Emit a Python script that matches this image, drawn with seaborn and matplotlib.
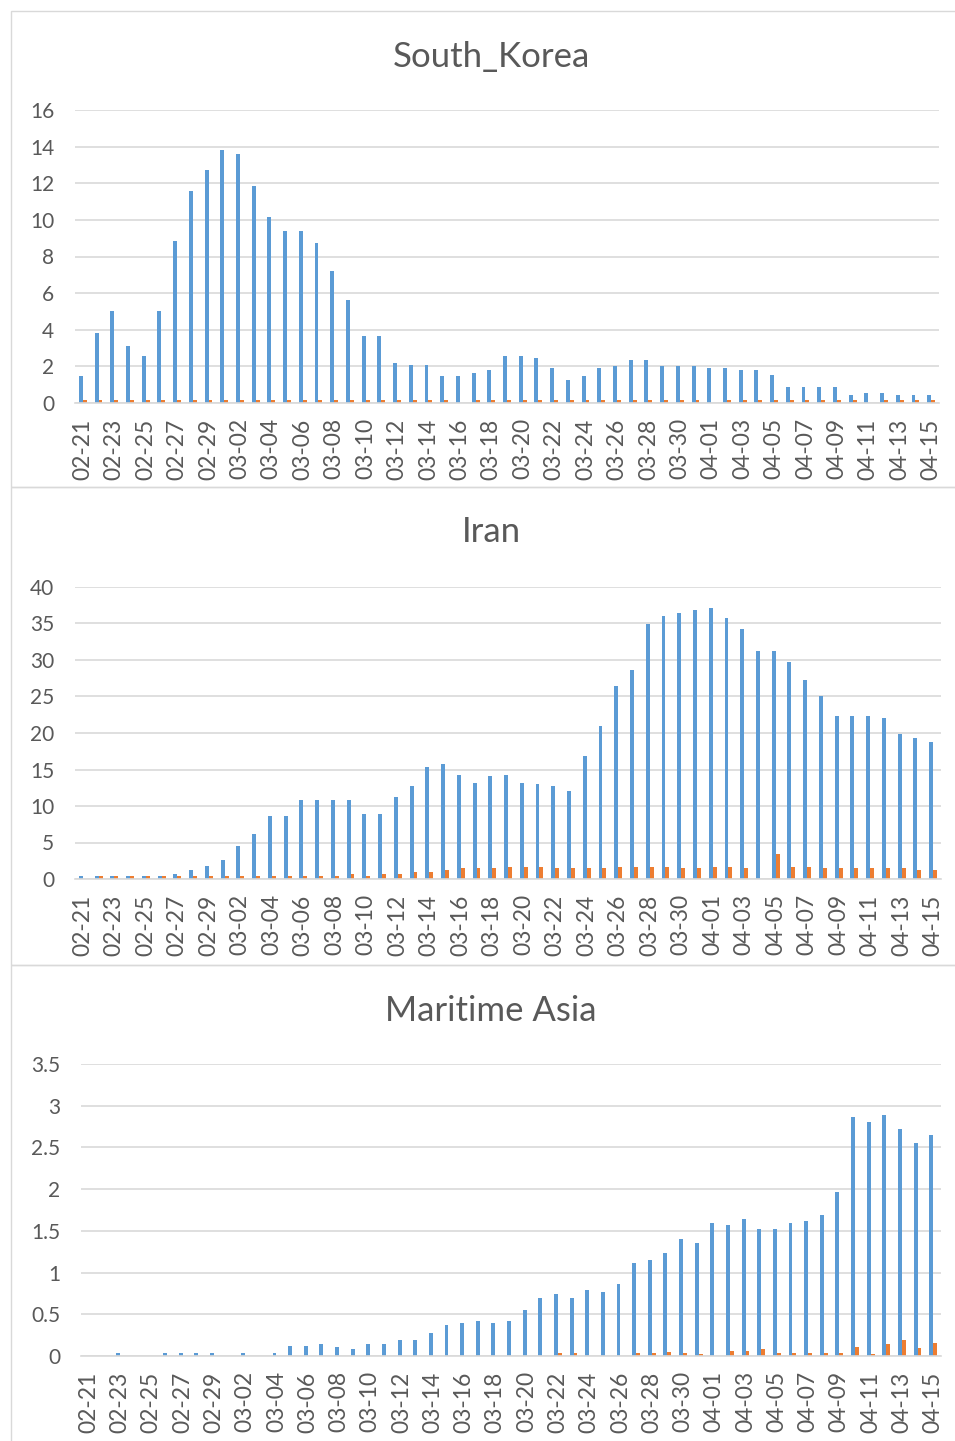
import numpy as np
import pandas as pd
import matplotlib
matplotlib.use('Agg')
import matplotlib.pyplot as plt
from matplotlib.patches import Rectangle
from matplotlib.ticker import FuncFormatter
import seaborn as sns

dates = ['02-21', '02-22', '02-23', '02-24', '02-25', '02-26', '02-27', '02-28', '02-29',
         '03-01', '03-02', '03-03', '03-04', '03-05', '03-06', '03-07', '03-08', '03-09', '03-10',
         '03-11', '03-12', '03-13', '03-14', '03-15', '03-16', '03-17', '03-18', '03-19', '03-20',
         '03-21', '03-22', '03-23', '03-24', '03-25', '03-26', '03-27', '03-28', '03-29', '03-30',
         '03-31', '04-01', '04-02', '04-03', '04-04', '04-05', '04-06', '04-07', '04-08', '04-09',
         '04-10', '04-11', '04-12', '04-13', '04-14', '04-15']

korea_blue = [1.45, 3.8, 5.0, 3.1, 2.55, 5.0, 8.85, 11.6, 12.7,
              13.8, 13.6, 11.85, 10.15, 9.4, 9.4, 8.75, 7.2, 5.65, 3.65,
              3.65, 2.2, 2.1, 2.1, 1.45, 1.45, 1.65, 1.8, 2.55, 2.55,
              2.45, 1.9, 1.25, 1.45, 1.9, 2.0, 2.35, 2.35, 2.0, 2.0,
              2.0, 1.9, 1.9, 1.8, 1.8, 1.55, 0.9, 0.9, 0.9, 0.9,
              0.45, 0.55, 0.55, 0.45, 0.45, 0.45]
korea_orange = [0.15, 0.15, 0.15, 0.15, 0.15, 0.15, 0.15, 0.15, 0.15,
                0.15, 0.15, 0.15, 0.15, 0.15, 0.15, 0.15, 0.15, 0.15, 0.15,
                0.15, 0.15, 0.15, 0.15, 0.15, 0.0, 0.15, 0.15, 0.15, 0.15,
                0.15, 0.15, 0.15, 0.15, 0.15, 0.15, 0.15, 0.15, 0.15, 0.15,
                0.15, 0.0, 0.15, 0.15, 0.15, 0.15, 0.15, 0.15, 0.15, 0.15,
                0.15, 0.0, 0.15, 0.15, 0.15, 0.15]

iran_blue = [0.37, 0.37, 0.37, 0.37, 0.37, 0.37, 0.64, 1.2, 1.75,
             2.6, 4.5, 6.1, 8.6, 8.6, 10.8, 10.8, 10.8, 10.8, 8.9,
             8.9, 11.3, 12.7, 15.4, 15.7, 14.3, 13.2, 14.1, 14.3, 13.2,
             13.0, 12.7, 12.1, 16.8, 20.9, 26.4, 28.6, 34.9, 36.0, 36.5,
             36.8, 37.1, 35.7, 34.3, 31.3, 31.3, 29.7, 27.2, 25.0, 22.3,
             22.3, 22.3, 22.0, 19.8, 19.3, 18.7]
iran_orange = [0.0, 0.37, 0.37, 0.37, 0.37, 0.37, 0.37, 0.37, 0.37,
               0.37, 0.37, 0.37, 0.37, 0.37, 0.37, 0.37, 0.37, 0.64, 0.37,
               0.64, 0.64, 0.9, 0.9, 1.2, 1.45, 1.45, 1.45, 1.7, 1.7,
               1.7, 1.45, 1.45, 1.45, 1.45, 1.7, 1.7, 1.7, 1.7, 1.45,
               1.45, 1.7, 1.7, 1.45, 0.0, 3.4, 1.7, 1.7, 1.45, 1.45,
               1.45, 1.45, 1.45, 1.45, 1.2, 1.2]

maritime_blue = [0.0, 0.0, 0.04, 0.0, 0.0, 0.03, 0.04, 0.04, 0.04,
                 0.0, 0.04, 0.0, 0.04, 0.12, 0.12, 0.14, 0.11, 0.08, 0.14,
                 0.14, 0.19, 0.19, 0.28, 0.37, 0.4, 0.42, 0.4, 0.42, 0.55,
                 0.7, 0.74, 0.7, 0.79, 0.77, 0.86, 1.12, 1.15, 1.24, 1.4,
                 1.36, 1.6, 1.57, 1.64, 1.52, 1.52, 1.6, 1.62, 1.69, 1.96,
                 2.87, 2.8, 2.89, 2.72, 2.55, 2.65]
maritime_orange = [0.0, 0.0, 0.0, 0.0, 0.0, 0.0, 0.0, 0.0, 0.0,
                   0.0, 0.0, 0.0, 0.0, 0.0, 0.0, 0.0, 0.0, 0.0, 0.0,
                   0.0, 0.0, 0.0, 0.0, 0.0, 0.0, 0.0, 0.0, 0.0, 0.0,
                   0.0, 0.03, 0.03, 0.0, 0.0, 0.0, 0.03, 0.03, 0.05, 0.03,
                   0.02, 0.0, 0.06, 0.06, 0.08, 0.03, 0.03, 0.03, 0.03, 0.03,
                   0.11, 0.02, 0.14, 0.19, 0.09, 0.16]

sns.set_style('white')
plt.rcParams['font.family'] = ['Lato', 'DejaVu Sans']

BLUE = '#5B9BD5'
ORANGE = '#ED7D31'
GRID = '#D9D9D9'
TEXT = '#595959'

W, H = 955, 1441
fig = plt.figure(figsize=(W / 100, H / 100), dpi=100)


def box(x0, y0, x1, y1):
    # pixel box (top-left origin) -> figure fraction rect
    return [x0 / W, 1 - y1 / H, (x1 - x0) / W, (y1 - y0) / H]


# title, blue, orange, ymax, step, plot box, title y, panel frame top/bottom
panels = [
    ('South_Korea', korea_blue, korea_orange, 16, 2, (75, 110, 939, 403), 57, (11, 487)),
    ('Iran', iran_blue, iran_orange, 40, 5, (75, 587, 941, 879), 532, (487, 965)),
    ('Maritime Asia', maritime_blue, maritime_orange, 3.5, 0.5, (81, 1064, 941, 1356), 1011, (965, 1460)),
]

for title, blue, orange, ymax, step, pbox, ty, frame in panels:
    fig.add_artist(Rectangle((11 / W, 1 - frame[1] / H), 1, (frame[1] - frame[0]) / H,
                             transform=fig.transFigure, fill=False, ec=GRID, lw=1))

    df = pd.DataFrame({
        'date': dates * 2,
        'value': blue + orange,
        'series': ['blue'] * len(dates) + ['orange'] * len(dates),
    })
    ax = fig.add_axes(box(*pbox))
    sns.barplot(data=df, x='date', y='value', hue='series', order=dates,
                palette=[BLUE, ORANGE], width=0.5, saturation=1, linewidth=0,
                errorbar=None, legend=False, ax=ax)

    ax.set_xlim(-0.5, len(dates) - 0.5)
    ax.set_ylim(0, ymax)
    ax.set_yticks(np.arange(0, ymax + step / 2, step))
    ax.yaxis.set_major_formatter(FuncFormatter(lambda v, p: '{:g}'.format(v)))
    ax.set_xticks(range(0, len(dates), 2))
    ax.set_xticklabels(dates[::2], rotation=90)
    ax.set_xlabel('')
    ax.set_ylabel('')

    ax.grid(axis='y', color=GRID, lw=1.2)
    ax.set_axisbelow(True)
    for s in ['top', 'right', 'left']:
        ax.spines[s].set_visible(False)
    ax.spines['bottom'].set_color(GRID)
    ax.spines['bottom'].set_linewidth(1.2)
    ax.tick_params(axis='x', length=0, pad=11, labelsize=16.5, labelcolor=TEXT)
    ax.tick_params(axis='y', length=0, pad=15, labelsize=15, labelcolor=TEXT)

    fig.text(491 / W, 1 - ty / H, title, ha='center', va='center', fontsize=25, color=TEXT)

fig.savefig('out.png', dpi=100)
